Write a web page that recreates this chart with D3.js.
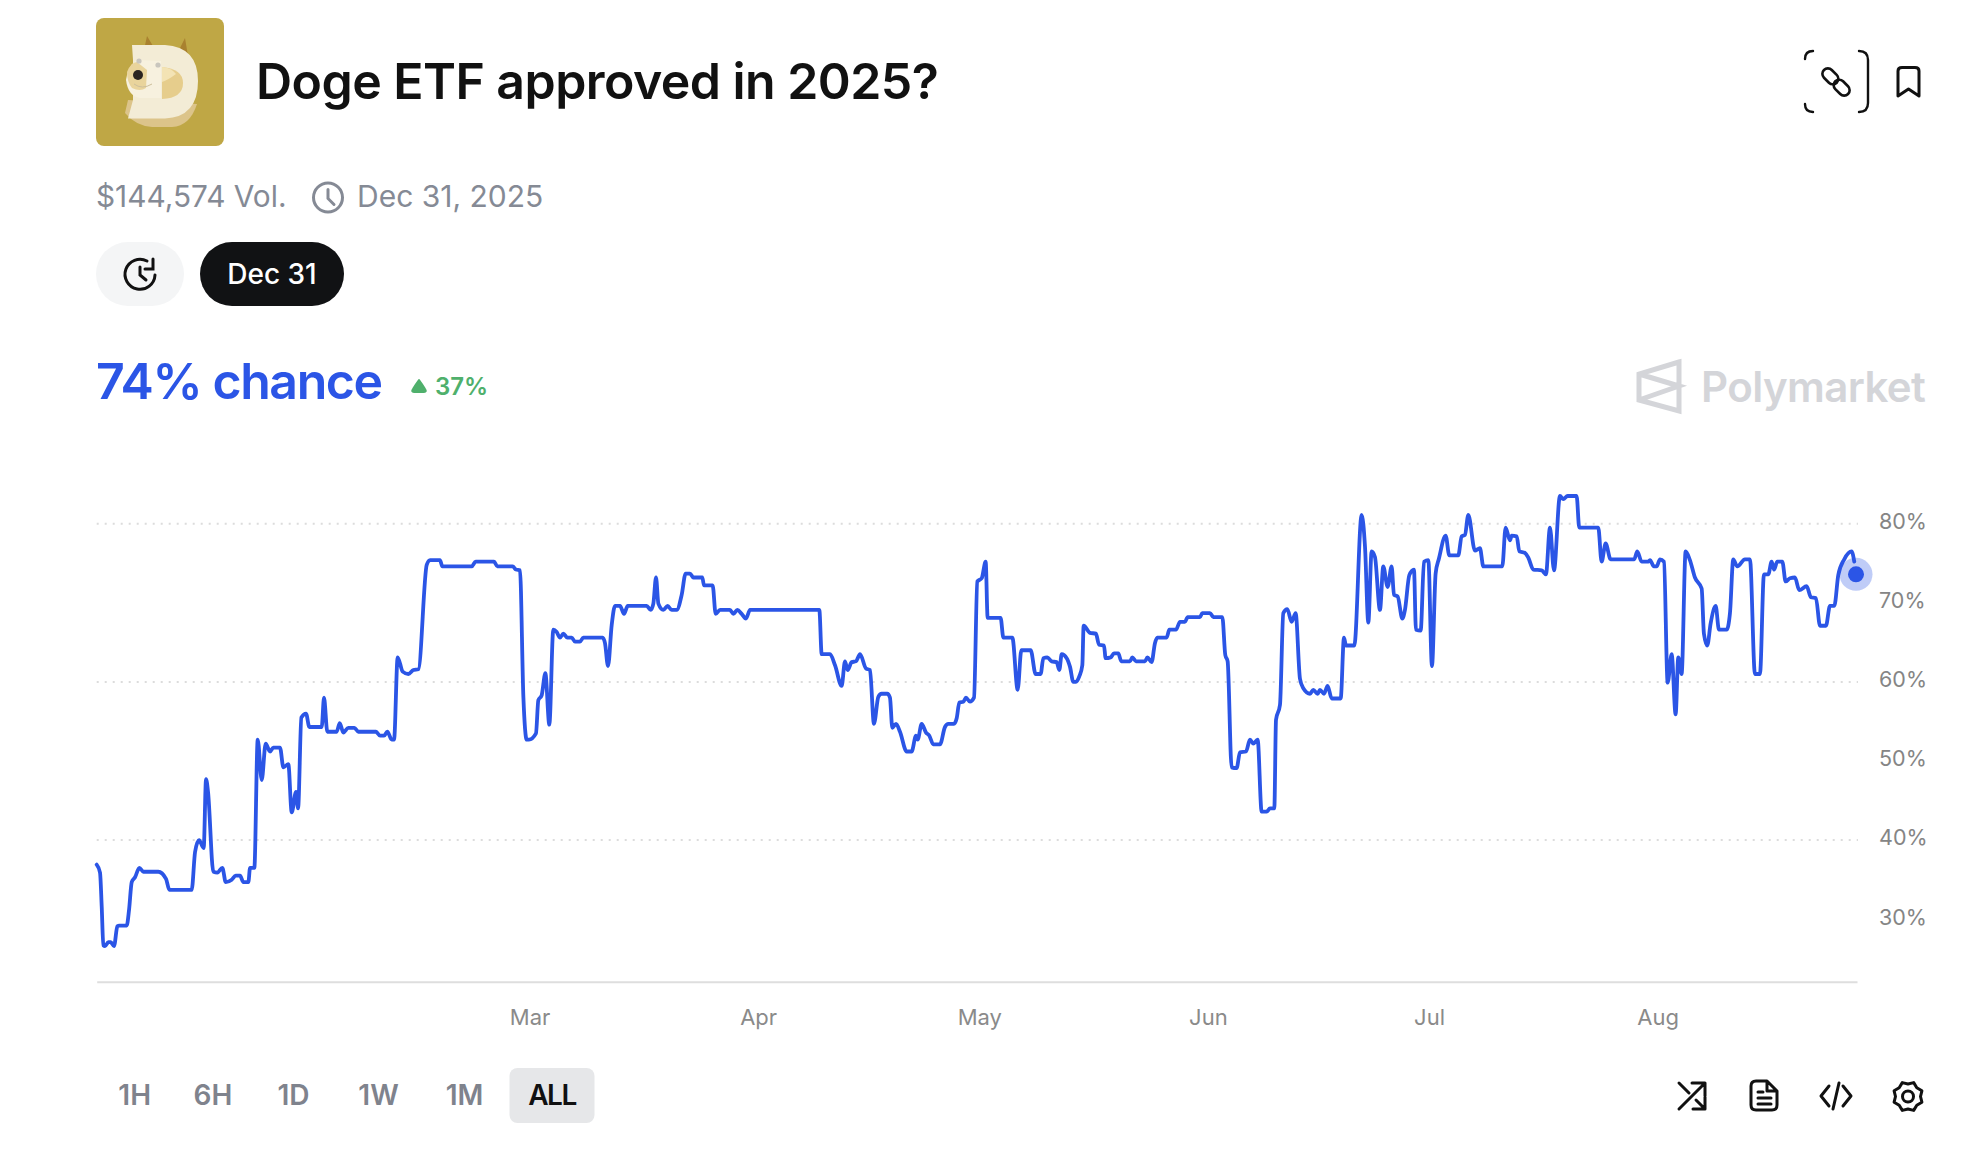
<!DOCTYPE html>
<html>
<head>
<meta charset="utf-8">
<title>Doge ETF approved in 2025?</title>
<script src="https://cdn.jsdelivr.net/npm/d3@7"></script>
<style>
  html, body { margin: 0; padding: 0; background: #fff; }
  svg { display: block; }
  text { font-family: Inter, "Noto Sans", sans-serif; }
</style>
</head>
<body>
<svg id="chart" width="1972" height="1168"></svg>
<script>
// days since the first trade
const days = [0,0.45,0.68,0.9,1.13,1.58,1.9,2.35,2.8,3.07,4.07,4.39,4.75,5.2,5.79,6.33,8.36,9.4,9.86,12.88,13.34,13.88,14.51,14.83,15.1,15.82,16.37,17.04,17.5,18.31,18.85,19.44,19.89,20.57,20.8,21.38,21.84,22.38,22.92,23.51,23.96,24.86,25.32,25.99,26.45,27.03,27.31,27.76,28.39,28.84,30.52,30.83,31.28,32.55,32.96,33.45,34.13,34.95,35.49,37.88,38.43,38.97,39.42,40.01,40.33,40.82,41.5,42.27,42.95,43.63,44.76,45.21,46.56,46.88,50.86,51.4,53.89,54.34,56.42,56.87,57.41,57.87,58.32,58.63,59.58,59.9,60.35,60.85,61.39,61.93,62.39,62.84,63.29,63.83,64.42,64.87,65.55,66,68.62,68.94,69.35,69.85,70.3,70.98,71.52,72.02,74.59,75.14,75.5,75.86,76.18,76.85,77.44,77.98,78.66,79.34,79.88,80.47,80.92,82.14,82.37,83.54,83.95,84.54,85.89,86.35,86.89,87.48,88.06,88.61,98.01,98.33,99.46,100.14,101.04,101.49,101.85,102.4,102.98,103.53,104.34,104.88,105.42,106.01,106.46,107.23,107.59,107.91,108.41,108.95,109.86,110.53,111.12,111.35,111.89,112.48,112.93,113.47,114.38,115.05,115.51,116.27,116.64,117,117.54,117.9,118.44,118.99,119.44,120.03,120.57,120.84,122.6,122.97,124.19,124.91,125.41,126.67,127.35,128.03,128.39,128.93,129.52,130.2,130.56,130.88,131.56,132.01,132.46,132.82,133.27,133.68,133.86,134.72,135.53,135.94,136.62,136.84,137.52,137.97,138.56,138.97,140.14,140.46,140.96,142.18,142.5,143.08,143.53,143.85,145.12,145.48,146.38,146.93,147.6,147.97,149.64,149.95,150.99,151.45,152.67,153.07,153.39,153.93,154.61,155.06,155.88,156.42,156.87,157.46,158,158.68,159.13,159.72,159.95,160.49,160.94,161.48,162.07,162.61,163.2,163.65,164.56,165.01,165.6,165.91,166.46,166.95,167.5,168.72,169.17,169.44,170.57,171.56,172.02,172.47,172.92,173.37,174.05,174.5,175.09,175.63,175.95,176.45,177.08,177.44,178.03,178.66,178.93,179.57,180.02,180.61,181.1,181.6,182.05,182.96,183.45,184.67,185.13,185.58,186.03,186.93,187.61,188.07,190.64,191.09,191.68,191.91,192.59,192.95,193.72,194.17,194.85,195.98,196.56,197.11,197.65,198.46,198.92,199.5,200.72,201.08,203.66,204.11,204.66,205.33,208.54,208.95,209.54,210.44,210.67,211.21,211.57,212.03,212.57,213.07,213.61,214.15,214.51,214.96,215.51,216.09,216.77,217.68,217.99,218.44,218.9,219.58,220.03,221.07,221.52,221.97,222.51,223.55,224.23,224.91,225.59,226.13,226.72,227.17,227.49,227.94,228.62,229.07,229.66,230.33,230.92,231.92,232.5,233.18,233.73,234.54,235.08,235.67,236.21,237.02,238.02,238.38];

// chance in percent, same order as days
const chance = [36.9,35.9,31.6,26.7,26.6,27.1,27.1,26.6,29.1,29.2,29.2,31.2,34.7,35.3,36.5,36,36,35.1,33.7,33.7,38.5,40,39,47.7,46.1,36,35.9,36.5,34.7,35,35.5,35.5,34.7,34.7,36.5,36.5,52.7,47.6,52.2,51.2,51.7,51.7,49.2,49.6,43.5,46.1,44,55.5,56,54.3,54.3,58,53.7,53.7,54.8,53.6,54.2,54.2,53.7,53.7,53.2,53.2,53.7,52.7,52.7,63.1,61.3,61,61.5,61.6,74.8,75.4,75.4,74.6,74.6,75.2,75.2,74.6,74.6,74.2,74.1,58.1,52.7,52.7,53.5,57.7,58.3,61.1,54.6,66.6,66.3,65.6,66.1,65.6,65.6,65.1,65.1,65.6,65.6,64.9,62,67.2,69.6,69.6,68.6,69.6,69.6,69.1,69.9,73.2,69.9,69.1,69.6,69.1,69.1,71,73.7,73.7,73.2,73.2,72.2,72.2,68.6,69.1,69.1,68.6,69.1,68.6,68,69.1,69.1,63.5,63.5,62.1,59.5,62.6,61.5,62.5,62.6,63.5,61.7,61.5,54.7,58.1,58.5,58.5,58,54.2,54.7,53.7,51.2,51.2,53.2,52.7,54.7,53.6,53.2,52.1,52.1,54.3,54.7,54.7,55.4,57.4,57.5,58,57.5,58,72.7,73.1,75.2,68.1,68.1,65.6,65.6,59,64,64,61,61,63,63.1,62.6,62.5,61.5,63.5,63,61.9,60,60,60.7,62.1,67.1,66.2,66.1,64.7,64.6,63,63.1,63.6,63.6,62.6,62.6,63.1,62.6,62.6,63.1,62.5,64.9,65.6,65.6,66.6,66.6,67.6,67.6,68.2,68.2,68.7,68.7,68.2,68.2,63.4,62.6,49.2,49.1,51.1,51.2,52.7,52.2,52.7,43.6,43.6,44,44,55.2,57.1,68.7,69.2,67.6,68.7,60.4,59.2,58.5,59,58.5,59,58.5,59.5,57.9,57.9,65.6,64.6,64.6,81.1,77.1,67.5,76.5,75.8,69.1,74.6,72,74.6,71,70.8,68,69.1,73.5,74.2,66.6,66.5,75.2,75.4,62,73.7,75.6,78.5,76,76,78.4,78.6,81.1,76.6,76.9,74.6,74.6,79.5,77.9,78.5,78.4,76.5,76.3,75.7,74.2,74.1,73.6,79.5,74.1,83.5,83.1,83.5,83.5,79.5,79.5,75.2,77.5,75.5,75.5,76.5,75.2,75.2,75.4,74.6,74.6,75.5,75.2,59.9,63.5,55.9,63.1,61,76.5,75.4,73.2,71.8,66.1,64.6,67.4,69.6,66.6,66.6,68.7,75.5,74.6,75.5,75.5,61,61,73.6,73.6,75.2,74.2,75.2,75.2,72.7,73.1,73.2,71.6,72.1,70.7,70.6,67.1,67.1,69.6,69.6,73.5,75.5,76.5,75.2];

const currentChance = 73.6;
const yTicks = [30, 40, 50, 60, 70, 80];
const gridTicks = [40, 60, 80];
const monthTicks = ["2025-03-01", "2025-04-01", "2025-05-01", "2025-06-01", "2025-07-01", "2025-08-01"];
const ranges = ["1H", "6H", "1D", "1W", "1M", "ALL"];

const blue = "#2b55e6";
const startTime = Date.UTC(2025, 0, 1, 7);
const toDate = d => new Date(startTime + d * 864e5);

const svg = d3.select("#chart");

const x = d3.scaleUtc()
  .domain([toDate(0), toDate(238.75)])
  .range([96.7, 1857]);

const y = d3.scaleLinear()
  .domain([22.1, 90])
  .range([981.7, 444.6]);

// dotted grid
svg.append("g")
  .selectAll("line")
  .data(gridTicks)
  .enter()
  .append("line")
  .attr("x1", 96.7)
  .attr("x2", 1858)
  .attr("y1", d => y(d))
  .attr("y2", d => y(d))
  .attr("stroke", "#dcdcdc")
  .attr("stroke-width", 2)
  .attr("stroke-dasharray", "2 6");

// axes
const xAxis = svg.append("g")
  .attr("transform", "translate(0,981.7)")
  .call(d3.axisBottom(x)
    .tickValues(monthTicks.map(d => new Date(d + "T00:00:00Z")))
    .tickFormat(d3.utcFormat("%b"))
    .tickSize(0)
    .tickPadding(28));
xAxis.select(".domain").attr("stroke", "#dedede").attr("stroke-width", 2);
xAxis.selectAll("text").attr("font-size", 22).attr("fill", "#8a8a8a").attr("font-family", "Inter");

const yAxis = svg.append("g")
  .attr("transform", "translate(1879,-2)")
  .call(d3.axisRight(y)
    .tickValues(yTicks)
    .tickFormat(d => d + "%")
    .tickSize(0)
    .tickPadding(0));
yAxis.select(".domain").remove();
yAxis.selectAll("text").attr("font-size", 21.5).attr("fill", "#858585").attr("font-family", "Inter");

// the price line
const line = d3.line()
  .x((d, i) => x(toDate(days[i])))
  .y(d => y(d))
  .curve(d3.curveMonotoneX);

svg.append("path")
  .datum(chance)
  .attr("d", line)
  .attr("fill", "none")
  .attr("stroke", blue)
  .attr("stroke-width", 3.8)
  .attr("stroke-linejoin", "round")
  .attr("stroke-linecap", "round");

// current value marker
svg.append("circle")
  .attr("cx", x.range()[1] - 1)
  .attr("cy", y(currentChance))
  .attr("r", 16.5)
  .attr("fill", blue)
  .attr("opacity", 0.3);
svg.append("circle")
  .attr("cx", x.range()[1] - 1)
  .attr("cy", y(currentChance))
  .attr("r", 8)
  .attr("fill", blue);

// doge logo
const logo = svg.append("g");
logo.append("rect").attr("x", 96).attr("y", 18).attr("width", 128).attr("height", 128).attr("rx", 8).attr("fill", "#bfa745");
logo.append("path").attr("d", "M144 50L147 36L153 46Z M180 48L185 38L188 56Z").attr("fill", "#a9812f");
logo.append("path").attr("d", "M128 100L125 113Q136 126 152 127H172Q190 126 197 104Z").attr("fill", "#dcc48a");
logo.append("path").attr("d", "M132 45H165Q198 47 198 81Q198 117 165 118.5H128L133 100V60Z").attr("fill", "#f3ecd6");
logo.append("path").attr("d", "M162 67Q183 69 183 83Q183 98 162 99Z").attr("fill", "#e6cd8c");
logo.append("path").attr("d", "M162 67Q172 68 176 74Q168 80 162 82Z").attr("fill", "#f3e3b4");
logo.append("path").attr("d", "M126 80Q128 66 137 60L161 61V98H140Q128 96 126 80Z").attr("fill", "#f7f1df");
logo.append("path").attr("d", "M127 72Q131 62 137 62L147 70L146 88Q140 92 132 88Q127 82 127 72Z").attr("fill", "#e9d49c");
logo.append("path").attr("d", "M134 84Q142 90 152 84").attr("fill", "none").attr("stroke", "#cdbf9b").attr("stroke-width", 1);
logo.append("ellipse").attr("cx", 138).attr("cy", 75).attr("rx", 5).attr("ry", 5).attr("fill", "#2a2420");
logo.append("circle").attr("cx", 139).attr("cy", 61).attr("r", 2.6).attr("fill", "#c9c6be");
logo.append("circle").attr("cx", 158).attr("cy", 65).attr("r", 2.6).attr("fill", "#c9c6be");

// header texts
svg.append("text").attr("x", 256).attr("y", 99).attr("font-size", 50).attr("font-weight", 600).attr("letter-spacing", -0.55).attr("fill", "#111").text("Doge ETF approved in 2025?");
svg.append("text").attr("x", 96).attr("y", 207).attr("font-size", 29.8).attr("fill", "#858a95").text("$144,574 Vol.");
svg.append("text").attr("x", 357).attr("y", 207).attr("font-size", 30).attr("fill", "#858a95").text("Dec 31, 2025");

// meta clock
const clock = svg.append("g").attr("transform", "translate(328,197.5)").attr("fill", "none").attr("stroke", "#858a95").attr("stroke-width", 3).attr("stroke-linecap", "round");
clock.append("circle").attr("r", 14.5);
clock.append("path").attr("d", "M0 -8V1L6 7");

// date pills
svg.append("rect").attr("x", 96).attr("y", 242).attr("width", 88).attr("height", 64).attr("rx", 32).attr("fill", "#f4f5f6");
const history = svg.append("g").attr("transform", "translate(140,274)").attr("fill", "none").attr("stroke", "#111").attr("stroke-width", 3).attr("stroke-linecap", "round");
history.append("path").attr("d", "M7 -13A15 15 0 1 0 15 1");
history.append("path").attr("d", "M13 -15V-5H5");
history.append("path").attr("d", "M0 -7V1L6 6");
svg.append("rect").attr("x", 200).attr("y", 242).attr("width", 144).attr("height", 64).attr("rx", 32).attr("fill", "#111214");
svg.append("text").attr("x", 272).attr("y", 284).attr("text-anchor", "middle").attr("font-size", 28).attr("font-weight", 500).attr("fill", "#fff").text("Dec 31");

// headline
svg.append("text").attr("x", 96).attr("y", 399).attr("font-size", 50).attr("font-weight", 600).attr("letter-spacing", -1.4).attr("fill", blue).text("74% chance");
svg.append("path").attr("d", "M419 380Q422 384 425 389Q427 392 424 392H414Q411 392 413 389Q416 384 419 380Z").attr("fill", "#4fb06c").attr("stroke", "#4fb06c").attr("stroke-width", 2).attr("stroke-linejoin", "round");
svg.append("text").attr("x", 435).attr("y", 395).attr("font-size", 24).attr("font-weight", 600).attr("fill", "#4fb06c").text("37%");

// watermark
svg.append("path").attr("d", "M1679 362L1639 374V400L1679 411Z M1639 374L1679 386L1639 400").attr("fill", "none").attr("stroke", "#d4d5d9").attr("stroke-width", 5);
svg.append("text").attr("x", 1701).attr("y", 402).attr("font-size", 42).attr("font-weight", 600).attr("letter-spacing", -0.6).attr("fill", "#d4d5d9").text("Polymarket");

// link and bookmark buttons
const topIcons = svg.append("g").attr("fill", "none").attr("stroke", "#111").attr("stroke-width", 2.4).attr("stroke-linecap", "round").attr("stroke-linejoin", "round");
topIcons.append("path").attr("d", "M1813 51Q1805 51 1805 59 M1805 104Q1805 112 1813 112 M1859 51Q1868 51 1868 60V103Q1868 112 1859 112");
topIcons.append("g").attr("transform", "translate(1836,82) rotate(45)").selectAll("rect").data([-8, 8]).enter()
  .append("rect").attr("x", d => d - 9).attr("y", -5.5).attr("width", 18).attr("height", 11).attr("rx", 5.5).attr("stroke-width", 2.6);
topIcons.append("path").attr("d", "M1898 96V71Q1898 67.5 1902 67.5H1915Q1919 67.5 1919 71V96L1908.5 89Z").attr("stroke-width", 3);

// range selector
const rangeX = [134.7, 213, 293.5, 378.5, 464.6, 552];
svg.append("rect").attr("x", 509.5).attr("y", 1068).attr("width", 85).attr("height", 55).attr("rx", 8).attr("fill", "#e6e7e9");
svg.append("g")
  .selectAll("text")
  .data(ranges)
  .enter()
  .append("text")
  .attr("x", (d, i) => rangeX[i])
  .attr("y", 1105)
  .attr("text-anchor", "middle")
  .attr("font-size", 28)
  .attr("font-weight", 600)
  .attr("letter-spacing", d => d === "ALL" ? -1.5 : 0)
  .attr("fill", d => d === "ALL" ? "#111" : "#7f838d")
  .text(d => d);

// bottom toolbar icons
const tools = svg.append("g").attr("fill", "none").attr("stroke", "#111").attr("stroke-width", 3).attr("stroke-linecap", "round").attr("stroke-linejoin", "round");
tools.append("path").attr("d", "M1679 1109L1705 1083M1692 1083H1705V1096M1679 1083L1689 1093M1696 1100L1705 1109M1705 1097V1109H1693");
tools.append("path").attr("d", "M1756 1081H1767L1777 1091V1105Q1777 1110 1772 1110H1756Q1751 1110 1751 1105V1086Q1751 1081 1756 1081Z M1767 1081V1091H1777 M1758 1092H1763 M1758 1098H1771 M1758 1104H1771");
tools.append("path").attr("d", "M1829 1086L1821 1096L1829 1106M1843 1086L1851 1096L1843 1106M1839 1083L1833 1109");
const gear = tools.append("g").attr("transform", "translate(1908,1096.5)");
gear.append("circle").attr("r", 5.5);
gear.append("path").attr("d", d3.range(0, 16).map(i => {
  const r = i % 2 ? 15 : 12.5;
  const a = i * Math.PI / 8;
  return (i ? "L" : "M") + (r * Math.cos(a)).toFixed(1) + " " + (r * Math.sin(a)).toFixed(1);
}).join("") + "Z");
</script>
</body>
</html>
